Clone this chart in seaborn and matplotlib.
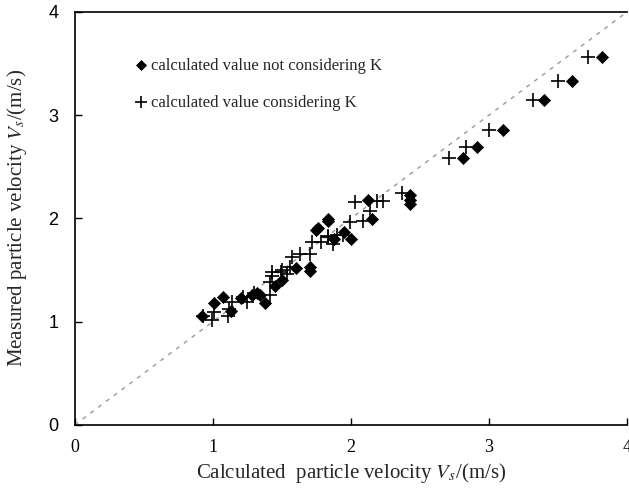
import matplotlib
matplotlib.use("Agg")
import matplotlib.pyplot as plt
import seaborn as sns
import pandas as pd

# Series: calculated value not considering K (diamonds)
x_noK = [0.92, 1.01, 1.07, 1.13, 1.20, 1.28, 1.32, 1.34, 1.38, 1.45, 1.50, 1.60,
         1.70, 1.70, 1.75, 1.76, 1.83, 1.83, 1.88, 1.95, 2.00, 2.12, 2.15,
         2.43, 2.43, 2.43, 2.81, 2.91, 3.10, 3.40, 3.60, 3.82]
y_noK = [1.05, 1.18, 1.24, 1.10, 1.23, 1.26, 1.28, 1.26, 1.18, 1.34, 1.40, 1.52,
         1.49, 1.53, 1.89, 1.91, 1.97, 1.99, 1.80, 1.87, 1.80, 2.18, 1.99,
         2.23, 2.18, 2.14, 2.58, 2.69, 2.86, 3.15, 3.33, 3.56]

# Series: calculated value considering K (plus)
x_K = [0.93, 0.99, 1.01, 1.11, 1.12, 1.14, 1.22, 1.25, 1.30, 1.41, 1.41, 1.43,
       1.43, 1.49, 1.50, 1.54, 1.56, 1.57, 1.63, 1.70, 1.72, 1.78, 1.83, 1.87,
       1.90, 1.83, 1.94, 1.99, 2.03, 2.09, 2.14, 2.19, 2.23, 2.37,
       2.71, 2.83, 3.00, 3.32, 3.50, 3.72]
y_K = [1.05, 1.02, 1.09, 1.05, 1.12, 1.19, 1.24, 1.19, 1.28, 1.26, 1.38, 1.44,
       1.48, 1.48, 1.50, 1.46, 1.53, 1.63, 1.65, 1.65, 1.77, 1.77, 1.82, 1.75,
       1.84, 1.83, 1.84, 1.96, 2.16, 1.97, 2.07, 2.17, 2.17, 2.25,
       2.58, 2.69, 2.86, 3.15, 3.33, 3.56]

label_noK = "calculated value not considering K"
label_K = "calculated value considering K"
ticks = [0, 1, 2, 3, 4]

sns.set_theme(style="white")
plt.rcParams["font.family"] = ["Liberation Serif", "DejaVu Serif"]
plt.rcParams["mathtext.fontset"] = "stix"

fig = plt.figure(figsize=(6.29, 4.94), dpi=100)
ax = fig.add_axes([0.119, 0.140, 0.878, 0.836])

ax.plot([0, 4], [0, 4], linestyle=(0, (3, 4)), color="#9a9a9a", linewidth=1.0, zorder=1)

df_noK = pd.DataFrame({"x": x_noK, "y": y_noK})
df_K = pd.DataFrame({"x": x_K, "y": y_K})

sns.scatterplot(data=df_noK, x="x", y="y", marker="D", s=38, color="black",
                edgecolor="black", linewidth=0.5, ax=ax, label=label_noK, zorder=3)
sns.scatterplot(data=df_K, x="x", y="y", marker="+", s=115, color="black",
                linewidth=1.2, ax=ax, label=label_K, zorder=4)

ax.set_xlim(0, 4)
ax.set_ylim(0, 4)
ax.set_xticks(ticks)
ax.set_yticks(ticks)
ax.set_xticklabels([str(t) for t in ticks], fontfamily="Liberation Serif", fontsize=13)
ax.set_yticklabels([str(t) for t in ticks], fontfamily="Liberation Sans", fontsize=13)
ax.tick_params(axis="both", direction="in", length=5, width=1, colors="black",
               bottom=True, left=True, pad=10)
ax.tick_params(axis="y", pad=12)

for side in ["left", "bottom", "top"]:
    ax.spines[side].set_visible(True)
    ax.spines[side].set_color("black")
    ax.spines[side].set_linewidth(1.2)
ax.spines["right"].set_visible(False)

ax.set_xlabel("Calculated  particle velocity $V_s$/(m/s)", fontsize=15, labelpad=4)
ax.set_ylabel("Measured particle velocity $V_s$/(m/s)", fontsize=15, labelpad=14)

leg = ax.legend(loc="upper left", bbox_to_anchor=(0.09, 0.905), frameon=False,
                fontsize=12, handletextpad=0.0, labelspacing=1.25, handlelength=1.2,
                borderaxespad=0)
handles = leg.legend_handles
handles[0].set_sizes([26])
handles[1].set_sizes([80])

fig.savefig("out.png", dpi=100)
